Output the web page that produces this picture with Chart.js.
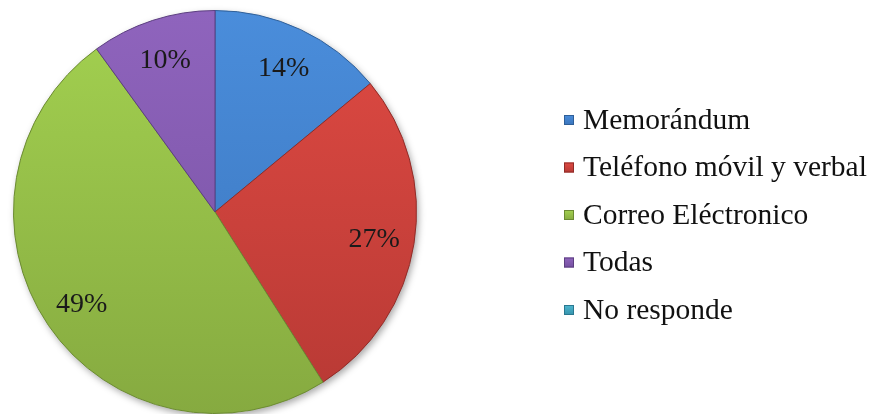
<!DOCTYPE html>
<html>
<head>
<meta charset="utf-8">
<script src="https://cdn.jsdelivr.net/npm/chart.js@4/dist/chart.umd.min.js"></script>
<style>
  html, body { margin: 0; padding: 0; background: #ffffff; }
  #wrap { width: 874px; height: 414px; }
</style>
</head>
<body>
<div id="wrap"><canvas id="c" width="874" height="414"></canvas></div>
<script>
// Categories and their shares (percent)
const categories = ['Memorándum', 'Teléfono móvil y verbal', 'Correo Eléctronico', 'Todas', 'No responde'];
const shares = [14, 27, 49, 10, 0];
const valueLabels = ['14%', '27%', '49%', '10%', ''];

// Slice palette: light top, darker bottom, edge line
const topColors = ['#4a8ddb', '#df4a43', '#a3d150', '#8f64bd', '#4fb7d0'];
const bottomColors = ['#3a74bb', '#b73934', '#86aa40', '#7550a0', '#3592ab'];
const edgeColors = ['#2f5f98', '#8f2c28', '#6b8a32', '#5c3f80', '#2a7890'];

const SERIF = '"Liberation Serif", serif';

function sliceFill(ctx) {
  const chart = ctx.chart;
  const area = chart.chartArea;
  const i = ctx.dataIndex;
  if (!area) return topColors[i];
  const g = chart.ctx.createLinearGradient(0, area.top, 0, area.bottom);
  g.addColorStop(0, topColors[i]);
  g.addColorStop(1, bottomColors[i]);
  return g;
}

// Soft shadow under the whole pie
const pieShadow = {
  id: 'pieShadow',
  beforeDatasetsDraw(chart) {
    const arc = chart.getDatasetMeta(0).data[0];
    if (!arc) return;
    const c = chart.ctx;
    c.save();
    c.shadowColor = 'rgba(0,0,0,0.35)';
    c.shadowBlur = 7;
    c.shadowOffsetX = 2;
    c.shadowOffsetY = 3;
    c.fillStyle = '#ffffff';
    c.beginPath();
    c.arc(arc.x, arc.y, arc.outerRadius, 0, Math.PI * 2);
    c.fill();
    c.restore();
  }
};

// Percentage text inside each slice
const sliceLabels = {
  id: 'sliceLabels',
  afterDatasetsDraw(chart) {
    const meta = chart.getDatasetMeta(0);
    const c = chart.ctx;
    c.save();
    c.font = '28px ' + SERIF;
    c.fillStyle = '#1a1a1a';
    c.textAlign = 'center';
    c.textBaseline = 'middle';
    meta.data.forEach((arc, i) => {
      if (!shares[i]) return;
      const mid = (arc.startAngle + arc.endAngle) / 2;
      const r = arc.outerRadius * 0.8;
      c.fillText(valueLabels[i], arc.x + Math.cos(mid) * r, arc.y + Math.sin(mid) * r + 2);
    });
    c.restore();
  }
};

// Legend column to the right of the pie
const sideLegend = {
  id: 'sideLegend',
  afterDraw(chart) {
    const c = chart.ctx;
    const x0 = 564, y0 = 120, step = 47.5, box = 10;
    c.save();
    c.font = '29.5px ' + SERIF;
    c.textBaseline = 'middle';
    c.textAlign = 'left';
    chart.data.labels.forEach((label, i) => {
      const y = y0 + i * step;
      const g = c.createLinearGradient(0, y - box / 2, 0, y + box / 2);
      g.addColorStop(0, topColors[i]);
      g.addColorStop(1, bottomColors[i]);
      c.fillStyle = g;
      c.fillRect(x0, y - box / 2, box, box);
      c.strokeStyle = edgeColors[i];
      c.lineWidth = 1;
      c.strokeRect(x0 + 0.5, y - box / 2 + 0.5, box - 1, box - 1);
      c.fillStyle = '#111111';
      c.fillText(label, x0 + 19, y + 1);
    });
    c.restore();
  }
};

function drawChart() {
  new Chart(document.getElementById('c'), {
    type: 'pie',
    data: {
      labels: categories,
      datasets: [{
        data: shares,
        backgroundColor: sliceFill,
        borderColor: edgeColors,
        borderWidth: 1
      }]
    },
    options: {
      responsive: false,
      animation: false,
      rotation: 0,
      layout: { padding: { left: 13, top: 10, right: 457, bottom: 0 } },
      plugins: {
        legend: { display: false },
        tooltip: { enabled: false }
      }
    },
    plugins: [pieShadow, sliceLabels, sideLegend]
  });
}

Promise.all([
  document.fonts.load('28px "Liberation Serif"'),
  document.fonts.load('29.5px "Liberation Serif"')
]).then(drawChart, drawChart);
</script>
</body>
</html>
